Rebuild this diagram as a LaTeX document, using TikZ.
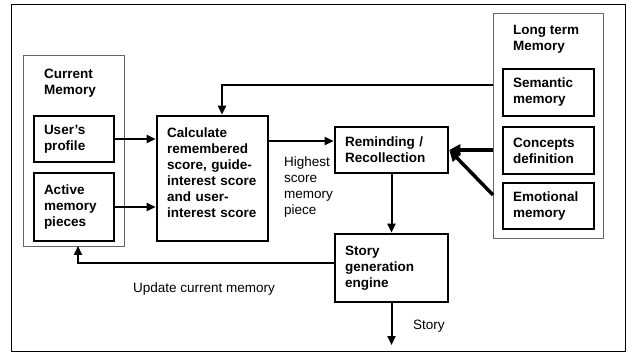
\documentclass[tikz,border=0pt]{standalone}
\usepackage{fontspec}
\setmainfont{Liberation Sans}
\usetikzlibrary{arrows.meta}
\begin{document}
\begin{tikzpicture}[x=1pt,y=-1pt,
  font=\fontsize{13.5}{16}\selectfont,
  box/.style={draw, line width=2.6pt, align=left, font=\fontsize{13.5}{16}\selectfont\bfseries, inner xsep=10pt, inner ysep=0pt},
  grp/.style={draw=black!60, line width=0.9pt, anchor=north west, inner sep=0pt},
  title/.style={font=\fontsize{13.5}{16}\selectfont\bfseries, align=left, anchor=base west, inner sep=0pt},
  lbl/.style={align=left, anchor=base west, inner sep=0pt},
  arr/.style={line width=2pt, -{Triangle[length=9pt,width=8pt]}},
  bigarr/.style={line width=3.5pt, -{Triangle[length=11pt,width=11pt]}}
]
\useasboundingbox (0,0) rectangle (628,352);
\node[draw, line width=0.8pt, minimum width=614pt, minimum height=347pt, inner sep=0pt, anchor=north west] (frame) at (11,4) {};

% groups
\node[grp, minimum width=101pt, minimum height=191pt] (curmem) at (23,55) {};
\node[grp, minimum width=110pt, minimum height=225pt] (ltm) at (493,13) {};
\node[title] (curtitle) at (44,95) {Current\\Memory};
\node[title] (ltmtitle) at (513,51) {Long term\\Memory};

% boxes
\node[box, minimum width=80pt, minimum height=46pt, text width=60pt] (user) at (74,139) {User's\\profile};
\node[box, minimum width=80pt, minimum height=68pt, text width=60pt] (active) at (74,207) {Active\\memory\\pieces};
\node[box, minimum width=111pt, minimum height=125pt, text width=91pt] (calc) at (212.5,178.5) {Calculate\\remembered\\score, guide-\\interest score\\and user-\\interest score\\[-4pt]\mbox{}};
\node[box, minimum width=113pt, minimum height=46pt, text width=93pt] (remind) at (391.5,150) {Reminding /\\Recollection};
\node[box, minimum width=113pt, minimum height=68pt, text width=93pt] (story) at (391.5,268) {Story\\generation\\engine};
\node[box, minimum width=91pt, minimum height=47pt, text width=71pt] (sem) at (548.5,92.5) {Semantic\\memory};
\node[box, minimum width=91pt, minimum height=47pt, text width=71pt] (conc) at (548.5,150.5) {Concepts\\definition};
\node[box, minimum width=91pt, minimum height=46pt, text width=71pt] (emo) at (548.5,206) {Emotional\\memory};

% labels
\node[lbl] (hs) at (284,215) {Highest\\score\\memory\\piece};
\node[lbl] (upd) at (133,292) {Update current memory};
\node[lbl] (storyl) at (413,329) {Story};

% connectors
\coordinate (tl) at (222,85);
\coordinate (hsy) at (268,141);
\coordinate (dg) at (493,195);
\coordinate (up) at (78,246);
\coordinate (out) at (391.5,345);

\draw[arr] (user.east) -- (user.east -| calc.west);
\draw[arr] (active.east) -- (active.east -| calc.west);
\draw[arr] (tl -| ltm.west) -- (tl) -- (tl |- calc.north);
\draw[arr] (hsy -| calc.east) -- (hsy -| remind.west);
\draw[bigarr] (ltm.west |- remind.east) -- (remind.east);
\draw[bigarr] (dg) -- (remind.east);
\draw[arr] (remind.south) -- (story.north);
\draw[arr] ([yshift=5pt]story.west) -| (up);
\draw[arr] (story.south) -- (out);
\end{tikzpicture}
\end{document}
